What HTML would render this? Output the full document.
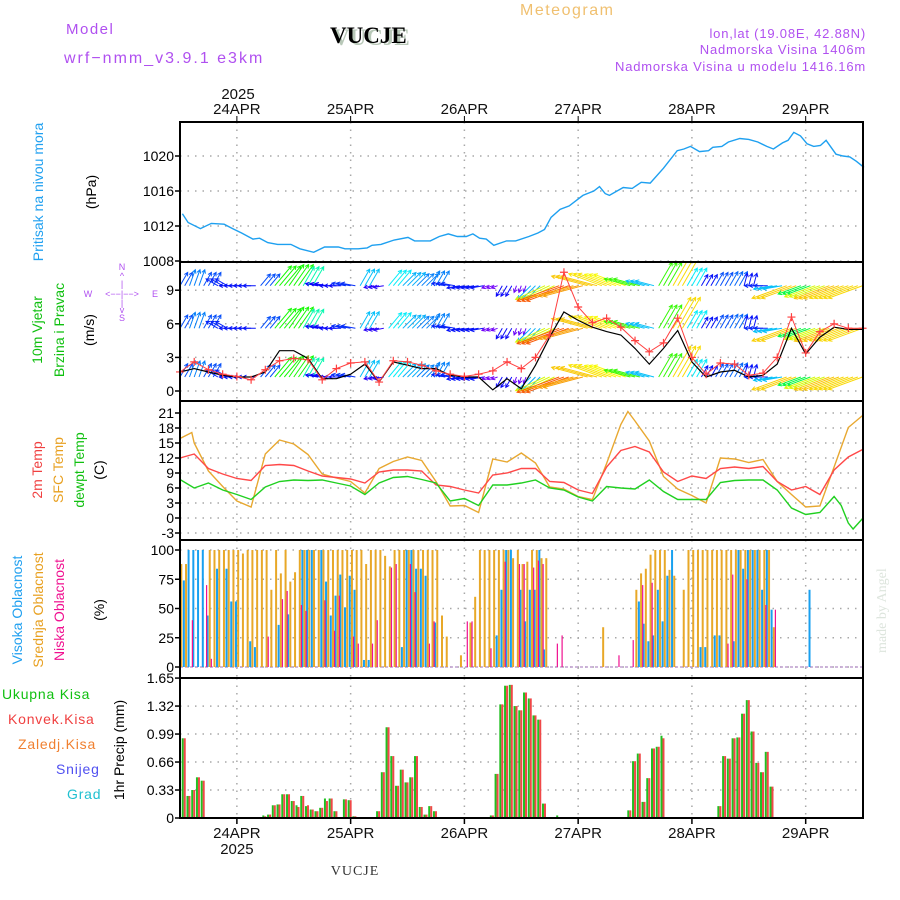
<!DOCTYPE html>
<html><head><meta charset="utf-8"><style>
html,body{margin:0;padding:0;background:#fff;}
svg{display:block;font-family:"Liberation Sans",sans-serif;}
</style></head><body>
<svg id="chart" width="900" height="900" viewBox="0 0 900 900" xmlns="http://www.w3.org/2000/svg">
<defs><clipPath id="windclip"><rect x="181" y="263" width="681" height="137"/></clipPath></defs>
<g id="header">
<text x="66" y="34" font-size="15" fill="#b050f0" letter-spacing="1.5">Model</text>
<text x="64" y="63" font-size="16" fill="#b050f0" letter-spacing="2">wrf−nmm_v3.9.1 e3km</text>
<text x="333" y="45" font-size="23" font-weight="bold" font-family="Liberation Serif,serif" fill="#b8c8b8">VUCJE</text>
<text x="330" y="43" font-size="23" font-weight="bold" font-family="Liberation Serif,serif" fill="#000">VUCJE</text>
<text x="520" y="15" font-size="16" fill="#f0c070" letter-spacing="1.5">Meteogram</text>
<text x="866" y="38" font-size="13" fill="#b050f0" text-anchor="end" letter-spacing="0.8">lon,lat (19.08E, 42.88N)</text>
<text x="866" y="54" font-size="13" fill="#b050f0" text-anchor="end" letter-spacing="0.8">Nadmorska Visina 1406m</text>
<text x="866" y="71" font-size="13" fill="#b050f0" text-anchor="end" letter-spacing="0.8">Nadmorska Visina u modelu 1416.16m</text>
<text x="238" y="99" font-size="15" text-anchor="middle" fill="#111">2025</text>
<text x="355" y="875" font-size="14" text-anchor="middle" font-family="Liberation Serif,serif" fill="#333" letter-spacing="1">VUCJE</text>
<text x="886" y="653" font-size="14" fill="#dde5dd" font-family="Liberation Serif,serif" transform="rotate(-90 886 653)">made by Angel</text>
</g>
<g id="leftlabels" font-size="14">
<text transform="translate(43,192) rotate(-90)" text-anchor="middle" fill="#20a0f0">Pritisak na nivou mora</text>
<text transform="translate(96,192) rotate(-90)" text-anchor="middle" fill="#000">(hPa)</text>
<text transform="translate(42,330) rotate(-90)" text-anchor="middle" fill="#10c010">10m Vjetar</text>
<text transform="translate(64,330) rotate(-90)" text-anchor="middle" fill="#10c010">Brzina i Pravac</text>
<text transform="translate(94,330) rotate(-90)" text-anchor="middle" fill="#000">(m/s)</text>
<g font-size="9" fill="#b050f0" text-anchor="middle">
<text x="122" y="270">N</text><text x="122" y="279">^</text><text x="122" y="287">|</text>
<text x="88" y="297">W</text><text x="122" y="297">&lt;−−|−−&gt;</text><text x="155" y="297">E</text>
<text x="122" y="306">|</text><text x="122" y="313">v</text><text x="122" y="321">S</text>
</g>
<text transform="translate(42,470) rotate(-90)" text-anchor="middle" fill="#f04040">2m Temp</text>
<text transform="translate(63,470) rotate(-90)" text-anchor="middle" fill="#e8a020">SFC Temp</text>
<text transform="translate(84,470) rotate(-90)" text-anchor="middle" fill="#10c010">dewpt Temp</text>
<text transform="translate(104,470) rotate(-90)" text-anchor="middle" fill="#000">(C)</text>
<text transform="translate(22,610) rotate(-90)" text-anchor="middle" fill="#20a0f0">Visoka Oblacnost</text>
<text transform="translate(43,610) rotate(-90)" text-anchor="middle" fill="#e8a020">Srednja Oblacnost</text>
<text transform="translate(64,610) rotate(-90)" text-anchor="middle" fill="#f01090">Niska Oblacnost</text>
<text transform="translate(104,610) rotate(-90)" text-anchor="middle" fill="#000">(%)</text>
<text x="2" y="699" fill="#10c010" letter-spacing="0.8">Ukupna Kisa</text>
<text x="8" y="724" fill="#f04040" letter-spacing="0.8">Konvek.Kisa</text>
<text x="18" y="749" fill="#f08030" letter-spacing="0.8">Zaledj.Kisa</text>
<text x="56" y="774" fill="#5050f0" letter-spacing="0.8">Snijeg</text>
<text x="67" y="799" fill="#20c0d0" letter-spacing="0.8">Grad</text>
<text transform="translate(124,750) rotate(-90)" text-anchor="middle" fill="#000">1hr Precip (mm)</text>
</g>
<g id="plots"></g>
</svg>
<script>
// ---------- DATA ----------
const dayLabels = ["24APR","25APR","26APR","27APR","28APR","29APR"];
const dayHours = [12,36,60,84,108,132];

const pressHours = [0.5,1.7,4.3,6.6,9.3,11.1,13.0,15.4,16.8,18.5,20.6,23.4,25.3,28.2,30.5,33.4,34.8,37.6,39.5,40.5,42.4,45.2,48.1,49.5,52.8,54.7,56.6,58.5,60.4,61.8,63.2,64.6,66.2,68.9,70.8,73.6,75.5,76.9,78.3,80.2,82.1,85.0,87.3,88.5,89.7,90.6,93.5,95.4,97.3,99.2,102.0,104.9,106.3,107.7,109.6,111.5,112.4,114.3,115.7,118.1,120.0,121.9,123.8,125.2,127.1,128.3,129.5,130.9,132.3,133.7,135.1,136.3,138.4,139.9,141.3,142.7,144.3];
const pressVals = [1013.4,1012.4,1011.7,1012.3,1012.2,1011.7,1011.2,1010.5,1010.6,1010.1,1009.9,1009.9,1009.4,1009.0,1009.6,1009.6,1009.4,1009.4,1009.5,1009.8,1009.9,1010.4,1010.7,1010.3,1010.3,1010.8,1011.1,1010.8,1010.8,1011.1,1010.6,1010.5,1009.8,1010.3,1010.3,1010.8,1011.2,1011.6,1013.0,1013.9,1014.3,1015.5,1016.0,1016.5,1015.7,1015.5,1016.4,1016.3,1017.0,1016.9,1018.6,1020.6,1020.8,1021.1,1020.5,1020.6,1021.0,1021.1,1021.6,1022.0,1021.9,1021.6,1021.1,1020.8,1021.5,1021.8,1022.7,1022.3,1021.4,1021.1,1021.2,1021.8,1020.2,1020.0,1019.9,1019.4,1018.7];

const hours3 = [0,3,6,9,12,15,18,21,24,27,30,33,36,39,42,45,48,51,54,57,60,63,66,69,72,75,78,81,84,87,90,93,96,99,102,105,108,111,114,117,120,123,126,129,132,135,138,141,144];
const windSpeed = [1.7,2.0,1.7,1.4,1.25,1.25,1.7,3.6,3.6,2.9,1.1,1.1,1.5,2.4,0.8,2.6,2.3,2.0,2.0,1.4,1.25,1.25,0.1,1.1,0.2,2.3,4.8,7.05,6.3,5.7,5.3,5.0,3.8,2.4,3.8,5.4,2.6,1.25,1.7,1.85,1.25,1.4,2.4,5.6,3.3,4.8,5.7,5.5,5.5];
const windGust = [1.7,2.6,1.9,1.5,1.3,1.0,1.9,2.7,2.9,2.8,1.0,2.0,2.5,2.6,0.8,2.7,2.6,2.3,1.8,1.5,1.3,1.5,1.8,2.6,2.0,3.0,5.0,10.6,7.5,6.1,6.5,5.7,4.5,3.5,4.3,6.5,3.0,1.5,2.5,2.4,1.4,1.6,3.0,6.6,3.4,5.3,6.0,5.6,5.6];
const windDir = [60,70,60,150,180,180,50,50,55,60,170,180,170,60,190,50,45,45,60,170,190,190,200,240,250,225,205,200,195,165,160,160,165,165,60,60,60,60,60,60,75,180,190,200,200,200,200,200,200];

const tempSfcHours = [0,2.5,3,6,9,12,15,18,21,24,27,30,33,36,39,42,45,48,51,54,57,60,63,66,69,72,75,78,81,84,87,90,93,94.5,96,99,102,105,108,111,114,117,120,123,126,129,132,135,138,141,144];
const tempSfc = [15.9,17.1,15.0,9.4,6.3,3.4,2.2,12.8,15.6,14.8,12.7,8.8,8.0,7.3,5.0,9.9,11.3,12.2,11.5,7.3,2.4,2.5,1.1,11.8,11.2,13.0,11.0,6.2,5.8,4.3,3.7,10.9,18.7,21.3,19.4,15.4,8.3,5.8,4.5,3.0,12.0,11.8,11.1,11.7,7.3,4.7,2.2,2.4,10.2,18.1,20.5];
const temp2m = [12.0,12.8,9.9,8.8,7.9,7.5,10.5,10.7,10.5,9.4,8.4,8.1,7.8,7.0,9.2,9.6,9.6,9.4,6.6,6.3,5.6,5.0,8.6,9.0,9.9,9.9,7.3,7.1,5.6,4.9,10.2,13.5,14.3,13.2,9.2,7.3,8.4,7.9,9.9,10.2,9.9,10.3,7.3,5.6,6.3,4.7,9.6,12.2,13.7];
const dewHours = [0,3,6,9,12,15,18,21,24,27,30,33,36,39,42,45,48,51,54,57,60,63,66,69,72,75,78,81,84,87,90,93,96,99,102,105,108,111,114,117,120,123,126,129,132,135,138,139.5,141,142,144];
const tempDew = [7.7,6.0,7.0,5.6,4.7,3.7,6.2,7.3,7.6,7.5,7.6,7.0,6.4,4.7,7.0,8.1,8.3,7.7,7.0,3.4,3.9,2.5,6.6,6.6,7.0,7.6,6.0,5.6,4.2,3.4,6.3,6.0,5.8,7.6,5.3,3.7,3.7,3.7,7.1,7.5,7.6,7.6,5.6,2.0,0.7,1.1,4.3,2.5,-1.0,-2.2,-0.1];

const cloudMid = [88,88,0,0,0,0,100,100,100,100,100,100,100,97,100,100,100,100,100,66,100,80,100,73,81,100,100,100,100,100,100,100,100,100,100,100,100,100,100,88,100,100,100,95,86,100,100,100,100,100,100,100,100,100,100,44,26,0,0,10,0,38,60,100,100,100,100,100,100,100,93,100,88,90,100,100,93,93,0,0,0,0,0,0,0,0,0,0,0,34,0,0,0,0,0,0,66,80,84,96,100,100,100,83,78,0,66,100,100,100,100,100,100,100,100,100,100,100,100,100,100,100,100,100,100,34,0,0,0,0,0,0,0,0,0,0,0,0,0,0,0,0,0,0];
const cloudHighHours = [1,2,3,4,5,6,8,10,11,12,15,16,21,23,26,27,28,30,31,32,33,34,35,36,37,39,40,47,48,49,50,51,52,54,67,68,69,70,72,73,74,75,76,77,97,98,99,100,101,102,103,104,110,111,113,114,117,118,119,120,121,122,123,124,125,133];
const cloudHigh = [74,100,100,100,100,44,84,84,56,56,22,17,36,45,100,100,100,100,73,44,61,79,51,78,66,6,6,17,100,100,84,84,78,38,27,66,100,100,66,39,66,66,100,15,56,37,22,27,66,39,78,100,17,17,27,27,22,100,84,100,100,100,66,100,49,66];
const cloudLowHours = [2,5,6,18,21,22,25,26,30,32,33,36,37,40,41,44,45,48,49,52,53,60,61,65,68,71,72,74,75,76,79,80,92,95,97,99,115,116,119,123,125];
const cloudLow = [40,70,7,26,58,65,53,48,57,31,61,26,20,20,40,85,88,88,64,20,39,39,39,16,90,88,88,85,91,88,20,27,10,23,70,72,20,79,75,53,49];

const precipHours = [1,2,3,4,5,18,19,20,21,22,23,24,25,26,27,28,29,30,31,32,33,35,36,37,42,43,44,45,46,47,48,49,50,51,52,53,54,58,66,67,68,69,70,71,72,73,74,75,76,77,80,95,96,97,98,99,100,101,102,114,115,116,117,118,119,120,121,122,123,124,125];
const precipTotal = [0.94,0.26,0.33,0.48,0.44,0.03,0.04,0.15,0.16,0.28,0.28,0.2,0.15,0.26,0.14,0.1,0.08,0.12,0.23,0.23,0.08,0.22,0.21,0.02,0.08,0.54,1.07,0.73,0.38,0.57,0.42,0.48,0.73,0.13,0.04,0.14,0.08,0.01,0.03,0.52,1.34,1.56,1.57,1.32,1.27,1.48,1.41,1.21,1.16,0.17,0.03,0.09,0.67,0.76,0.19,0.47,0.82,0.84,0.97,0.14,0.73,0.70,0.94,0.95,1.23,1.39,1.02,0.65,0.54,0.78,0.37];
const precipConv = [0.94,0.26,0.33,0.48,0.44,0.02,0.04,0.15,0.16,0.28,0.28,0.2,0.13,0.26,0.15,0.1,0.08,0.12,0.2,0.23,0.08,0.22,0.21,0.02,0.08,0.54,1.07,0.73,0.38,0.57,0.42,0.48,0.73,0.13,0.04,0.14,0.08,0.01,0.03,0.52,1.34,1.56,1.57,1.32,1.27,1.48,1.41,1.21,1.16,0.17,0.0,0.09,0.67,0.76,0.19,0.47,0.82,0.84,0.94,0.14,0.73,0.70,0.94,0.95,1.23,1.39,1.02,0.65,0.54,0.78,0.37];

const pressTicks = [1008,1012,1016,1020];
const windTicks = [0,3,6,9];
const tempTicks = [-3,0,3,6,9,12,15,18,21];
const cloudTicks = [0,25,50,75,100];
const precipTicks = [0,0.33,0.66,0.99,1.32,1.65];

// ---------- SCALES ----------
const X0 = 180, X1 = 863, PXH = 4.74;
const x = h => X0 + h * PXH;
const yP = v => 156 + (1020 - v) * 8.75;
const yW = v => 391 - v * 11.2;
const yT = v => 413 + (21 - v) * 5.0;
const yC = v => 667 - v * 1.17;
const yR = v => 818 - v * 84.8;
const panels = [[122,262],[262,401],[401,540],[540,678],[678,818]];

const NS = "http://www.w3.org/2000/svg";
const root = document.getElementById("plots");
function el(tag, attrs, parent) {
  const e = document.createElementNS(NS, tag);
  for (const k in attrs) e.setAttribute(k, attrs[k]);
  (parent || root).appendChild(e);
  return e;
}
function grp(name) {
  const g = el("g", {});
  
  
  return g;
}
const grid = "#a8a8a8";

const gGrid = grp("grid");
panels.forEach(p => dayHours.forEach(h => {
  el("line", {x1:x(h), x2:x(h), y1:p[0], y2:p[1], stroke:grid, "stroke-width":1.5, "stroke-dasharray":"1.5,6"}, gGrid);
}));
function hgrid(ticks, yf, labelFmt, name) {
  const g = grp(name);
  ticks.forEach(t => {
    el("line", {x1:X0, x2:X1, y1:yf(t), y2:yf(t), stroke:grid, "stroke-width":1.5, "stroke-dasharray":"1.5,6"}, gGrid);
    el("line", {x1:X0-5, x2:X0, y1:yf(t), y2:yf(t), stroke:"#000", "stroke-width":1.5}, g);
    const tx = el("text", {x:X0-6, y:yf(t)+5, "font-size":14, "text-anchor":"end", fill:"#000"}, g);
    tx.textContent = labelFmt(t);
  });
}
hgrid(pressTicks, yP, t => t, "pressure-y-axis");
hgrid(windTicks, yW, t => t, "wind-y-axis");
hgrid(tempTicks, yT, t => t, "temp-y-axis");
hgrid(cloudTicks, yC, t => t, "cloud-y-axis");
hgrid(precipTicks, yR, t => t.toFixed(t===0?0:(t*100%10===0?1:2)), "precip-y-axis");

const gPress = grp("pressure-series");
let d = pressHours.map((h,i) => (i?"L":"M") + x(h).toFixed(1) + "," + yP(pressVals[i]).toFixed(1)).join("");
el("path", {d, fill:"none", stroke:"#1ea0f0", "stroke-width":1.4}, gPress);

const gWind = grp("wind-arrows");
gWind.setAttribute("clip-path", "url(#windclip)");
function speedColor(s) {
  let hue;
  if (s < 1.5) hue = 270 - (s/1.5)*40;
  else if (s < 2.5) hue = 230 - (s-1.5)*40;
  else if (s < 3.5) hue = 190 - (s-2.5)*70;
  else if (s < 5) hue = 120 - (s-3.5)*40;
  else if (s < 6.5) hue = 60 - (s-5)*17;
  else hue = 35 - (s-6.5)*25;
  if (hue < 0) hue += 360;
  return "hsl(" + hue.toFixed(0) + ",95%,50%)";
}
const rows = [9.4, 5.6, 1.25];
for (let hh = 0; hh <= 144; hh++) {
  const i = Math.min(hours3.length-1, Math.round(hh/3));
  const s = windSpeed[i], a = windDir[i] * Math.PI/180;
  const L = 6 + s * 5.5;
  const col = speedColor(s);
  rows.forEach(r => {
    const bx = x(hh), by = yW(r);
    const ex = bx + L*Math.cos(a), ey = by - L*Math.sin(a);
    const arr = el("path", {d:`M${bx.toFixed(1)},${by.toFixed(1)}L${ex.toFixed(1)},${ey.toFixed(1)}`
      + `M${(ex - 4*Math.cos(a-0.5)).toFixed(1)},${(ey + 4*Math.sin(a-0.5)).toFixed(1)}L${ex.toFixed(1)},${ey.toFixed(1)}L${(ex - 4*Math.cos(a+0.5)).toFixed(1)},${(ey + 4*Math.sin(a+0.5)).toFixed(1)}`,
      fill:"none", stroke:col, "stroke-width":1}, gWind);
    
    
  });
}
const gWs = grp("wind-speed-line");
d = hours3.map((h,i) => (i?"L":"M") + x(h).toFixed(1) + "," + yW(windSpeed[i]).toFixed(1)).join("");
el("path", {d, fill:"none", stroke:"#000", "stroke-width":1.2}, gWs);
const gGust = grp("wind-gust-series");
d = hours3.map((h,i) => (i?"L":"M") + x(h).toFixed(1) + "," + yW(windGust[i]).toFixed(1)).join("");
el("path", {d, fill:"none", stroke:"#ff4040", "stroke-width":1}, gGust);
hours3.forEach((h,i) => {
  const cx = x(h), cy = yW(windGust[i]);
  const p = el("path", {d:`M${cx-4},${cy}H${cx+4}M${cx},${cy-4}V${cy+4}`, stroke:"#ff4040", "stroke-width":1.2}, gGust);
  
  
});

function line(hs, vs, yf, col, name) {
  const g = grp(name);
  const dd = hs.map((h,i) => (i?"L":"M") + x(h).toFixed(1) + "," + yf(vs[i]).toFixed(1)).join("");
  el("path", {d:dd, fill:"none", stroke:col, "stroke-width":1.4}, g);
}
line(tempSfcHours, tempSfc, yT, "#e8a830", "sfc-temp-line");
line(hours3, temp2m, yT, "#ff4848", "2m-temp-line");
line(dewHours, tempDew, yT, "#20d020", "dewpoint-line");

const gCl = grp("cloud-bars");
el("line", {x1:X0, x2:X1, y1:667, y2:667, stroke:"#c0a0d0", "stroke-width":1.5, "stroke-dasharray":"3,2"}, gCl);
cloudMid.forEach((v,h) => {
  if (!v) return;
  const r = el("rect", {x:x(h)+0.3, y:yC(v), width:2, height:667-yC(v), fill:"#e8a828"}, gCl);
  
  
});
cloudHighHours.forEach((h,i) => {
  const v = cloudHigh[i];
  const r = el("rect", {x:x(h)-1.9, y:yC(v), width:2, height:667-yC(v), fill:"#18a0f0"}, gCl);
  
  
});
cloudLowHours.forEach((h,i) => {
  const v = cloudLow[i];
  const r = el("rect", {x:x(h)+2.3, y:yC(v), width:1.2, height:667-yC(v), fill:"#f01090"}, gCl);
  
  
});

const gPr = grp("precip-bars");
el("line", {x1:X0, x2:X1, y1:yR(1.65), y2:yR(1.65), stroke:"#000", "stroke-width":1.5, "stroke-dasharray":"6,3"}, gPr);
precipHours.forEach((h,i) => {
  const c = x(h) - 1;
  const g1 = el("rect", {x:c-2, y:yR(precipTotal[i]), width:2, height:818-yR(precipTotal[i]), fill:"#20c020"}, gPr);
  
  
  const r1 = el("rect", {x:c, y:yR(precipConv[i]), width:2, height:818-yR(precipConv[i]), fill:"#f04848"}, gPr);
  
  
});

const gFr = grp("panel-frames");
panels.forEach(p => el("rect", {x:X0, y:p[0], width:X1-X0, height:p[1]-p[0], fill:"none", stroke:"#000", "stroke-width":2}, gFr));

const gXt = grp("x-axis-top");
const gXb = grp("x-axis-bottom");
dayHours.forEach((h,i) => {
  el("line", {x1:x(h), x2:x(h), y1:116, y2:122, stroke:"#000", "stroke-width":1}, gXt);
  let t = el("text", {x:x(h), y:114, "font-size":15, "text-anchor":"middle", fill:"#111"}, gXt);
  t.textContent = dayLabels[i];
  el("line", {x1:x(h), x2:x(h), y1:818, y2:824, stroke:"#000", "stroke-width":1.5}, gXb);
  t = el("text", {x:x(h), y:838, "font-size":15, "text-anchor":"middle", fill:"#111"}, gXb);
  t.textContent = dayLabels[i];
});
const yb = el("text", {x:x(12), y:854, "font-size":15, "text-anchor":"middle", fill:"#111"}, gXb);
yb.textContent = "2025";
</script>
</body></html>
